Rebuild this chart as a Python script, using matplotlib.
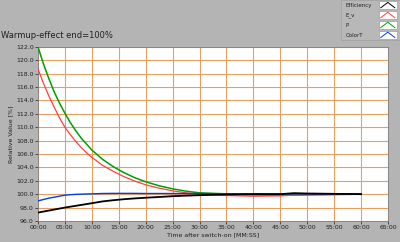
import matplotlib
matplotlib.use("Agg")
import matplotlib.pyplot as plt
from matplotlib.lines import Line2D
from matplotlib.patches import Rectangle

# data (minutes after switch-on, relative value %)
t = [0, 1, 2, 3, 4, 5, 6, 7, 8, 9, 10, 12, 14, 16, 18, 20, 22.5, 25, 27.5, 30, 35, 40, 45, 47.5, 50, 55, 60]
p = [122.0, 119.5, 117.3, 115.3, 113.6, 112.1, 110.7, 109.5, 108.4, 107.5, 106.6, 105.2, 104.1, 103.2,
     102.45, 101.85, 101.25, 100.8, 100.45, 100.2, 100.05, 99.9, 99.85, 99.85, 99.9, 99.95, 100.0]
e_v = [118.7, 116.6, 114.7, 113.0, 111.4, 110.0, 108.9, 107.9, 107.0, 106.2, 105.5, 104.3, 103.4, 102.6,
       101.95, 101.4, 100.9, 100.5, 100.2, 100.0, 99.8, 99.7, 99.75, 99.85, 99.9, 99.95, 100.0]
color_t = [99.0, 99.2, 99.4, 99.55, 99.7, 99.85, 99.92, 99.97, 100.0, 100.03, 100.05, 100.1, 100.12, 100.12,
           100.12, 100.1, 100.1, 100.1, 100.1, 100.1, 100.05, 100.05, 100.05, 100.05, 100.05, 100.05, 100.05]
efficiency = [97.25, 97.4, 97.55, 97.7, 97.85, 98.0, 98.13, 98.26, 98.39, 98.52, 98.65, 98.92, 99.1, 99.25,
              99.37, 99.47, 99.58, 99.7, 99.78, 99.85, 99.95, 100.0, 100.0, 100.15, 100.1, 100.05, 100.0]

x_ticks = list(range(0, 66, 5))
x_labels = ["%02d:00" % m for m in x_ticks]
y_ticks = list(range(96, 123, 2))
y_labels = ["%.1f" % v for v in y_ticks]

series = [("Efficiency", efficiency, "#000000"),
          ("E_v", e_v, "#ff4040"),
          ("P", p, "#00a000"),
          ("ColorT", color_t, "#0040e0")]

bg = "#b4b4b4"
fig = plt.figure(figsize=(4.0, 2.42), dpi=100, facecolor=bg)
ax = fig.add_axes([0.095, 0.087, 0.875, 0.719])
ax.set_facecolor("white")

ax.plot(t, p, color="#00a000", lw=1.1, zorder=3)
ax.plot(t, e_v, color="#ff4040", lw=0.9, zorder=3)
ax.plot(t, color_t, color="#0040e0", lw=1.0, zorder=4)
ax.plot(t, efficiency, color="#000000", lw=1.3, zorder=5)

ax.set_xlim(0, 65)
ax.set_ylim(96, 122)
ax.set_xticks(x_ticks)
ax.set_xticklabels(x_labels)
ax.set_yticks(y_ticks)
ax.set_yticklabels(y_labels)
ax.grid(True, color="#e8a060", lw=0.8)
ax.set_axisbelow(True)
ax.tick_params(labelsize=4.5, length=2, width=0.5, pad=1, colors="#202020")
for s in ax.spines.values():
    s.set_color("#808080")
    s.set_linewidth(0.6)
ax.set_xlabel("Time after switch-on [MM:SS]", fontsize=4.5, labelpad=1.5, color="#202020")
ax.set_ylabel("Relative Value [%]", fontsize=4.5, labelpad=2, color="#202020")

fig.text(0.003, 0.835, "Warmup-effect end=100%", fontsize=6, color="#202020", va="bottom")

# legend panel
fig.patches.append(Rectangle((0.853, 0.835), 0.147, 0.165, transform=fig.transFigure,
                             facecolor="#b8b8b8", edgecolor="#a0a0a0", lw=0.5))
ys = [0.978, 0.937, 0.896, 0.855]
for (name, _, col), yy in zip(series, ys):
    fig.text(0.865, yy, name, fontsize=4, va="center", color="#202020")
    fig.patches.append(Rectangle((0.947, yy - 0.017), 0.045, 0.034, transform=fig.transFigure,
                                 facecolor="white", edgecolor="#909090", lw=0.4))
    fig.lines.append(Line2D([0.952, 0.9695, 0.987], [yy - 0.01, yy + 0.012, yy - 0.01],
                            transform=fig.transFigure, color=col, lw=0.7))

fig.savefig("out.png", dpi=100, facecolor=bg)
